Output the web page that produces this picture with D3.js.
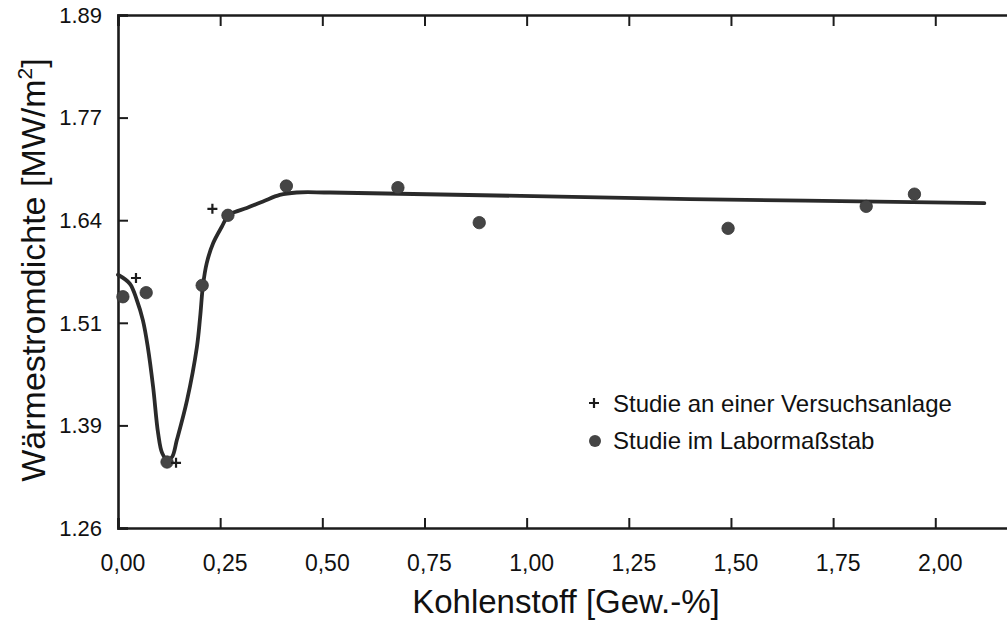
<!DOCTYPE html>
<html>
<head>
<meta charset="utf-8">
<script src="https://cdn.jsdelivr.net/npm/d3@7"></script>
<style>
  html, body { margin: 0; padding: 0; background: #fff; }
  svg { display: block; font-family: "Liberation Sans", Arial, sans-serif; }
</style>
</head>
<body>
<svg width="1007" height="621"></svg>
<script>
// values
const labX = [0.012, 0.069, 0.120, 0.206, 0.269, 0.412, 0.685, 0.884, 1.493, 1.831, 1.949];
const labY = [1.544, 1.549, 1.341, 1.558, 1.644, 1.680, 1.678, 1.635, 1.628, 1.655, 1.670];

const plantX = [0.044, 0.142, 0.231];
const plantY = [1.567, 1.340, 1.652];

// hand drawn trend curve
const curveX = [0, 0.029, 0.046, 0.061, 0.073, 0.086, 0.098, 0.108, 0.120, 0.132, 0.144, 0.169, 0.193, 0.201, 0.208, 0.217, 0.233, 0.254, 0.270, 0.286, 0.315, 0.355, 0.396, 0.437, 0.519, 1.4, 2.12];
const curveY = [1.571, 1.560, 1.540, 1.515, 1.482, 1.433, 1.377, 1.352, 1.344, 1.347, 1.368, 1.417, 1.482, 1.519, 1.558, 1.585, 1.610, 1.630, 1.644, 1.648, 1.653, 1.661, 1.669, 1.672, 1.672, 1.664, 1.659];

const xTicks = [0, 0.25, 0.5, 0.75, 1.0, 1.25, 1.5, 1.75, 2.0];
const yTickLabels = ["1.26", "1.39", "1.51", "1.64", "1.77", "1.89"];

const legendLabels = ["Studie an einer Versuchsanlage", "Studie im Labormaßstab"];

let svg = d3.select("svg");

const mLeft = 118, mTop = 15, mBottom = 528, mRight = 1017;

let x = d3.scaleLinear().domain([0, 2.2]).range([mLeft, mRight]);
let y = d3.scaleLinear().domain([1.26, 1.89]).range([mBottom, mTop]);

// y ticks are evenly spaced, the printed labels are rounded
const yTicks = d3.range(yTickLabels.length).map(i => 1.26 + i * (1.89 - 1.26) / (yTickLabels.length - 1));
const fmtX = d3.format(".2f");

const ink = "#1c1c1c";

// frame with inward ticks on all sides
let axes = svg.append("g").attr("class", "axes");

axes.append("g")
    .attr("transform", `translate(0,${mBottom})`)
    .call(d3.axisTop(x).tickValues(xTicks).tickSize(10).tickFormat(""));
axes.append("g")
    .attr("transform", `translate(0,${mTop})`)
    .call(d3.axisBottom(x).tickValues(xTicks).tickSize(11).tickFormat(""));
axes.append("g")
    .attr("transform", `translate(${mLeft},0)`)
    .call(d3.axisRight(y).tickValues(yTicks).tickSize(10).tickFormat(""));
axes.append("g")
    .attr("transform", `translate(${mRight},0)`)
    .call(d3.axisLeft(y).tickValues(yTicks).tickSize(10).tickFormat(""));

axes.selectAll(".domain").attr("stroke", ink).attr("stroke-width", 2.6);
axes.selectAll(".tick line").attr("stroke", ink).attr("stroke-width", 2);

// tick labels
svg.append("g").selectAll("text")
    .data(xTicks)
    .join("text")
    .attr("x", d => x(d) + 5)
    .attr("y", 571)
    .attr("text-anchor", "middle")
    .attr("font-size", 23)
    .attr("fill", "#111")
    .text(d => fmtX(d).replace(".", ","));

svg.append("g").selectAll("text")
    .data(yTicks)
    .join("text")
    .attr("x", 102)
    .attr("y", d => y(d))
    .attr("dy", "0.35em")
    .attr("text-anchor", "end")
    .attr("font-size", 22)
    .attr("fill", "#111")
    .text((d, i) => yTickLabels[i]);

// axis titles
svg.append("text")
    .attr("x", 566)
    .attr("y", 613)
    .attr("text-anchor", "middle")
    .attr("font-size", 33)
    .attr("fill", "#111")
    .text("Kohlenstoff [Gew.-%]");

let yt = svg.append("text")
    .attr("transform", "translate(45,270) rotate(-90)")
    .attr("text-anchor", "middle")
    .attr("font-size", 34)
    .attr("fill", "#111");
yt.append("tspan").text("Wärmestromdichte [MW/m");
yt.append("tspan").attr("font-size", 21).attr("dy", -13).text("2");
yt.append("tspan").attr("dy", 13).text("]");

// trend curve
let line = d3.line()
    .x(d => x(d[0]))
    .y(d => y(d[1]))
    .curve(d3.curveCatmullRom.alpha(0.5));

svg.append("path")
    .datum(d3.zip(curveX, curveY))
    .attr("fill", "none")
    .attr("stroke", "#2a2a2a")
    .attr("stroke-width", 3.8)
    .attr("stroke-linecap", "round")
    .attr("d", line);

// lab points
svg.append("g").selectAll("circle")
    .data(d3.zip(labX, labY))
    .join("circle")
    .attr("cx", d => x(d[0]))
    .attr("cy", d => y(d[1]))
    .attr("r", 6.2)
    .attr("fill", "#454545")
    .attr("stroke", "#333")
    .attr("stroke-width", 0.8);

// pilot plant points
function plusPath(s) {
  return `M${-s},0H${s}M0,${-s}V${s}`;
}
svg.append("g").selectAll("path")
    .data(d3.zip(plantX, plantY))
    .join("path")
    .attr("transform", d => `translate(${x(d[0])},${y(d[1])})`)
    .attr("d", plusPath(5))
    .attr("stroke", ink)
    .attr("stroke-width", 2.2)
    .attr("fill", "none");

// legend
let legend = svg.append("g").attr("transform", "translate(594,0)");
legend.append("path")
    .attr("transform", "translate(0,403)")
    .attr("d", plusPath(5))
    .attr("stroke", ink)
    .attr("stroke-width", 2.2);
legend.append("circle")
    .attr("cx", 1).attr("cy", 441).attr("r", 6)
    .attr("fill", "#454545");
legend.selectAll("text")
    .data(legendLabels)
    .join("text")
    .attr("x", 19)
    .attr("y", (d, i) => 412 + i * 37)
    .attr("font-size", 24)
    .attr("fill", "#111")
    .text(d => d);
</script>
</body>
</html>
